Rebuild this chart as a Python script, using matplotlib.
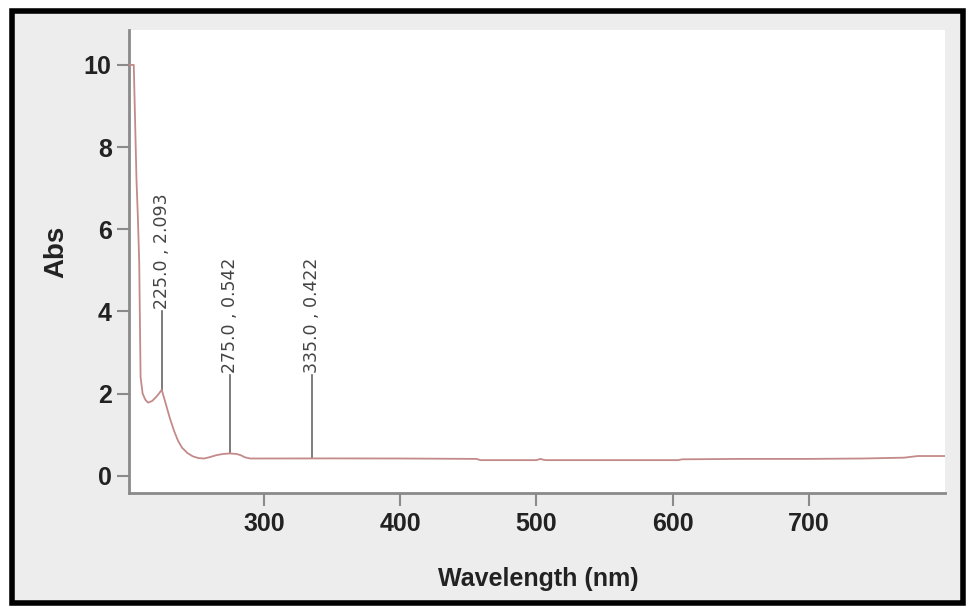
import matplotlib

matplotlib.use("Agg")
import matplotlib.pyplot as plt
from matplotlib.patches import Rectangle

# UV-Vis spectrum, values
wavelength = [201, 203, 204.5, 205.5, 206.5, 207.5, 208.5, 209.5, 211, 213, 215, 218, 221, 223,
              225, 228, 231, 234, 237, 240, 244, 248, 252, 256, 260, 265, 270, 275, 280, 283,
              286, 290, 300, 350, 400, 456, 459, 500, 503, 505, 507, 550, 604, 607, 650,
              700, 740, 770, 775, 780, 800]
absorbance = [10.0, 10.0, 10.0, 8.6, 7.2, 6.3, 5.2, 2.4, 2.0, 1.85, 1.78, 1.82, 1.92, 2.0,
              2.093, 1.75, 1.4, 1.1, 0.85, 0.68, 0.55, 0.47, 0.43, 0.42, 0.45, 0.5, 0.53, 0.542,
              0.53, 0.5, 0.45, 0.42, 0.42, 0.422, 0.42, 0.41, 0.38, 0.38, 0.41, 0.39, 0.38,
              0.38, 0.38, 0.40, 0.41, 0.41, 0.42, 0.44, 0.46, 0.48, 0.48]

peak_wl = [225.0, 275.0, 335.0]
peak_abs = [2.093, 0.542, 0.422]
label_base = [4.0, 2.45, 2.45]

xticks = [300, 400, 500, 600, 700]
yticks = [0, 2, 4, 6, 8, 10]

sans = ["Liberation Sans", "DejaVu Sans"]

fig = plt.figure(figsize=(9.68, 6.08), dpi=100, facecolor="white")
# gray panel and black frame around the chart
fig.patches.append(Rectangle((12 / 968, 5 / 608), 951 / 968, 592 / 608, transform=fig.transFigure,
                             facecolor="#ededed", edgecolor="black", linewidth=4, zorder=-5))

ax = fig.add_axes([129 / 968, 115 / 608, 816 / 968, 463 / 608])
ax.set_facecolor("white")

ax.plot(wavelength, absorbance, color="#c48a8a", linewidth=1.3, zorder=3)

for wl, a, top in zip(peak_wl, peak_abs, label_base):
    ax.plot([wl, wl], [a, top], color="#666666", linewidth=1.2, zorder=2)
    ax.text(wl, top + 0.05, f"{wl:.1f} , {a:.3f}", rotation=90, ha="center", va="bottom",
            fontsize=12.5, color="#444444", family="DejaVu Sans")

ax.set_xlim(201, 800)
ax.set_ylim(-0.42, 10.85)
ax.set_xticks(xticks)
ax.set_yticks(yticks)

for side in ["top", "right"]:
    ax.spines[side].set_visible(False)
for side in ["left", "bottom"]:
    ax.spines[side].set_color("#8a8a8a")
    ax.spines[side].set_linewidth(2)

ax.tick_params(axis="both", colors="#8a8a8a", width=1.5, length=9)
ax.tick_params(axis="x", pad=5)
for lab in ax.get_xticklabels() + ax.get_yticklabels():
    lab.set_family(sans)
    lab.set_fontweight("bold")
    lab.set_fontsize(18)
    lab.set_color("#222222")

ax.set_xlabel("Wavelength (nm)", family=sans, fontweight="bold", fontsize=18, color="#222222")
ax.set_ylabel("Abs", family=sans, fontweight="bold", fontsize=20, color="#222222")
ax.xaxis.set_label_coords(0.502, -0.16)
ax.yaxis.set_label_coords(-0.073, 0.52)

fig.savefig("out.png", dpi=100, facecolor=fig.get_facecolor())
